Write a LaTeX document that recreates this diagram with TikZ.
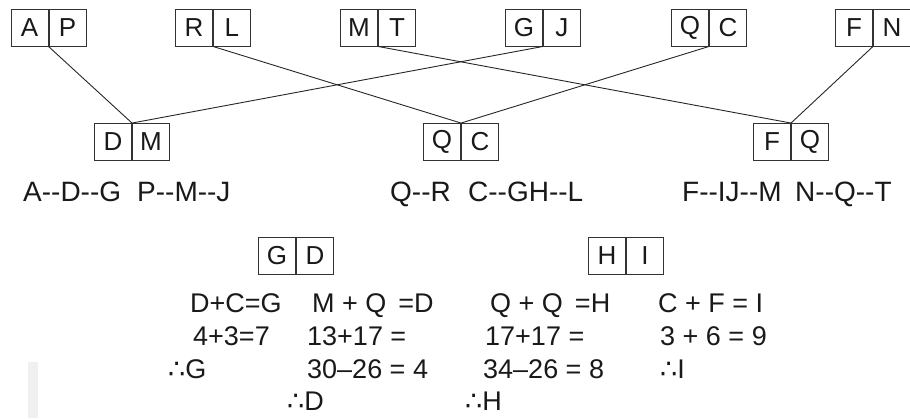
\documentclass[tikz,border=0pt]{standalone}
\usepackage{fontspec}
\setmainfont{Liberation Sans}
\newfontfamily\symfont{DejaVu Sans}
\newcommand{\thf}{{\symfont ∴}}
\newcommand{\pairbox}[4]{%
  \node[cell,anchor=east] (#1-l) at (#2) {#3};
  \node[cell,anchor=west] (#1-r) at (#2) {#4};}
\begin{document}
\begin{tikzpicture}[x=1pt,y=-1pt,
  cell/.style={draw=black!80, line width=0.9pt, minimum width=37pt, minimum height=37pt,
    inner sep=0pt, font=\fontsize{26}{26}\selectfont, text=black!90},
  link/.style={draw=black!85, line width=0.9pt},
  lbl/.style={anchor=base west, inner sep=0pt, font=\fontsize{28}{28}\selectfont, text=black!90},
  eq/.style={anchor=base west, inner sep=0pt, font=\fontsize{27}{27}\selectfont, text=black!90}]
\useasboundingbox (0,0) rectangle (910,418);
\fill[black!6] (28,362) rectangle (38,418);

% top row
\pairbox{AP}{48.5,27.5}{A}{P}
\pairbox{RL}{213,27.5}{R}{L}
\pairbox{MT}{378,27.5}{M}{T}
\pairbox{GJ}{543,27.5}{G}{J}
\pairbox{QCt}{709,27.5}{Q}{C}
\pairbox{FN}{873,27.5}{F}{N}
% middle row
\pairbox{DM}{132,142}{D}{M}
\pairbox{QCm}{461,142}{Q}{C}
\pairbox{FQ}{791,142}{F}{Q}
% bottom row
\pairbox{GD}{296,255.5}{G}{D}
\pairbox{HI}{626,255.5}{H}{I}

% connectors
\draw[link] (AP-l.south east) -- (DM-l.north east);
\draw[link] (GJ-l.south east) -- (DM-l.north east);
\draw[link] (RL-l.south east) -- (QCm-l.north east);
\draw[link] (QCt-l.south east) -- (QCm-l.north east);
\draw[link] (MT-l.south east) -- (FQ-l.north east);
\draw[link] (FN-l.south east) -- (FQ-l.north east);

% labels under middle row
\node[lbl] (t1) at (23,201) {A-{}-D-{}-G};
\node[lbl] (t2) at (137,201) {P-{}-M-{}-J};
\node[lbl] (t3) at (390,201) {Q-{}-R};
\node[lbl] (t4) at (468,201) {C-{}-GH-{}-L};
\node[lbl] (t5) at (682,201) {F-{}-IJ-{}-M};
\node[lbl] (t6) at (795,201) {N-{}-Q-{}-T};

% working
\node[eq] (e11) at (190,312) {D+C=G};
\node[eq] (e12) at (312,312) {M + Q\, =D};
\node[eq] (e13) at (490,312) {Q + Q\, =H};
\node[eq] (e14) at (658,312) {C + F = I};
\node[eq] (e21) at (193,345) {4+3=7};
\node[eq] (e22) at (307,345) {13+17 =};
\node[eq] (e23) at (485,345) {17+17 =};
\node[eq] (e24) at (660,345) {3 + 6 = 9};
\node[eq] (e31) at (168,378) {\thf G};
\node[eq] (e32) at (307,378) {30–26 = 4};
\node[eq] (e33) at (483,378) {34–26 = 8};
\node[eq] (e34) at (660,378) {\thf I};
\node[eq] (e41) at (287,410) {\thf D};
\node[eq] (e42) at (465,410) {\thf H};
\end{tikzpicture}
\end{document}
